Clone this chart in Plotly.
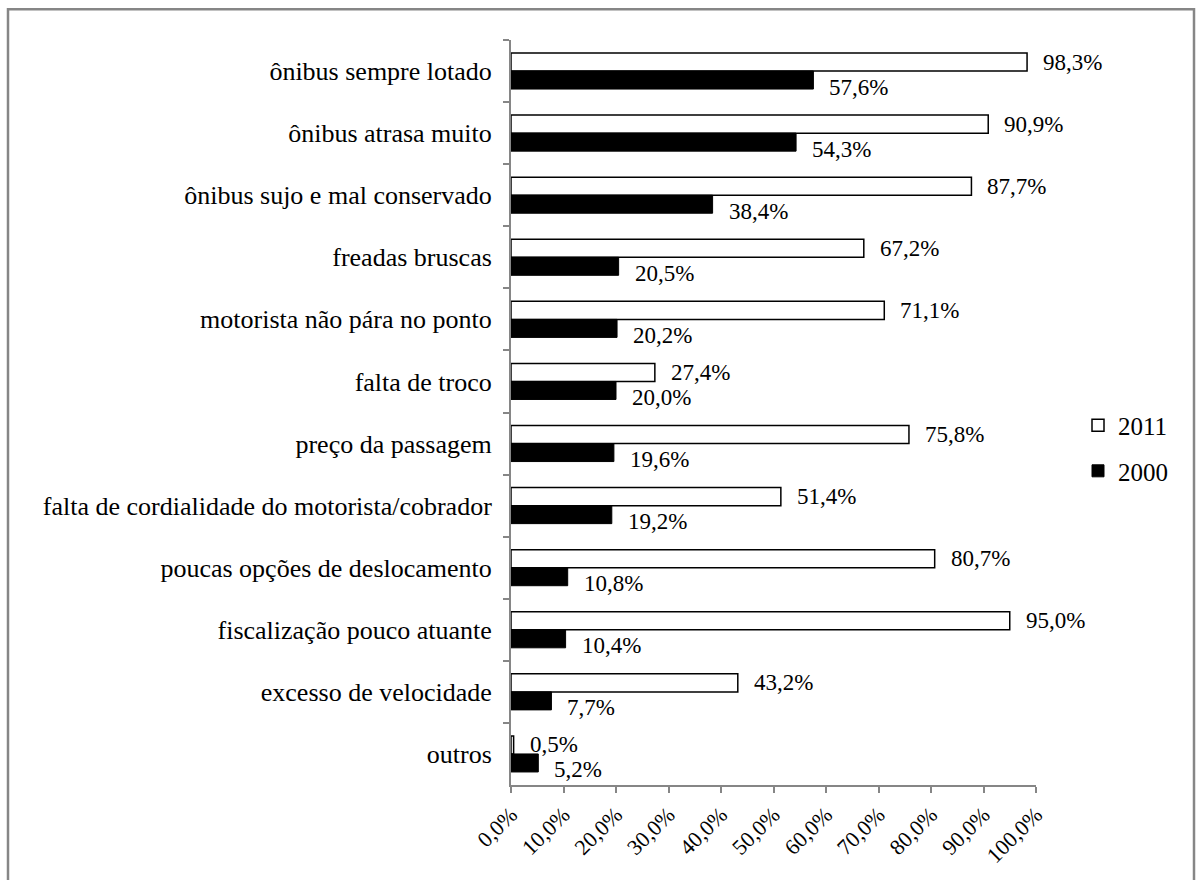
import plotly.graph_objects as go

categories = [
    "ônibus sempre lotado",
    "ônibus atrasa muito",
    "ônibus sujo e mal conservado",
    "freadas bruscas",
    "motorista não pára no ponto",
    "falta de troco",
    "preço da passagem",
    "falta de cordialidade do motorista/cobrador",
    "poucas opções de deslocamento",
    "fiscalização pouco atuante",
    "excesso de velocidade",
    "outros",
]
values_2011 = [98.3, 90.9, 87.7, 67.2, 71.1, 27.4, 75.8, 51.4, 80.7, 95.0, 43.2, 0.5]
values_2000 = [57.6, 54.3, 38.4, 20.5, 20.2, 20.0, 19.6, 19.2, 10.8, 10.4, 7.7, 5.2]
tick_values = [0, 10, 20, 30, 40, 50, 60, 70, 80, 90, 100]
tick_labels = ["0,0%", "10,0%", "20,0%", "30,0%", "40,0%", "50,0%",
               "60,0%", "70,0%", "80,0%", "90,0%", "100,0%"]


def fmt(v):
    return f"{v:.1f}%".replace(".", ",")


FONT = "Liberation Serif, DejaVu Serif, serif"
L, R, T, B = 511, 160, 40, 90
W, H = 1196, 880
pw = W - L - R
ph = H - T - B

fig = go.Figure()
fig.add_trace(go.Bar(
    name="2011", y=categories, x=values_2011, orientation="h",
    marker=dict(color="white", line=dict(color="black", width=1.5)),
    legendgroup="a",
))
fig.add_trace(go.Bar(
    name="2000", y=categories, x=values_2000, orientation="h",
    marker=dict(color="black", line=dict(color="black", width=1)),
    legendgroup="b",
))

bargap = 0.42
half = (1 - bargap) / 4
annotations = []
for i, (a, b) in enumerate(zip(values_2011, values_2000)):
    annotations.append(dict(x=a, y=i - half, xref="x", yref="y", text=fmt(a),
                            showarrow=False, xanchor="left", xshift=14,
                            font=dict(family=FONT, size=23, color="black")))
    annotations.append(dict(x=b, y=i + half, xref="x", yref="y", text=fmt(b),
                            showarrow=False, xanchor="left", xshift=14, yshift=-7,
                            font=dict(family=FONT, size=23, color="black")))

fig.update_layout(
    width=W, height=H,
    margin=dict(l=L, r=R, t=T, b=B),
    paper_bgcolor="white", plot_bgcolor="white",
    barmode="group", bargap=bargap, bargroupgap=0,
    font=dict(family=FONT, size=23, color="black"),
    showlegend=True,
    legend=dict(x=(1078 - L) / pw, y=(790 - 405) / ph, xanchor="left", yanchor="top",
                font=dict(family=FONT, size=25, color="black"),
                tracegroupgap=10, itemwidth=30, bgcolor="rgba(0,0,0,0)"),
    annotations=annotations,
    shapes=[dict(type="rect", xref="paper", yref="paper",
                 x0=(8 - L) / pw, x1=(1194 - L) / pw,
                 y0=(790 - 895) / ph, y1=(790 - 9) / ph,
                 line=dict(color="#868686", width=2.5), layer="below")],
)
fig.update_xaxes(
    range=[0, 100], tickvals=tick_values, ticktext=tick_labels, tickangle=-45,
    showgrid=False, zeroline=False, showline=True, linecolor="#868686", linewidth=2,
    ticks="outside", ticklen=6, tickcolor="#868686", tickwidth=1.5,
    tickfont=dict(family=FONT, size=22, color="black"),
)
fig.update_yaxes(
    autorange="reversed", type="category", showgrid=False, zeroline=False,
    showline=True, linecolor="#868686", linewidth=2,
    ticks="outside", ticklen=6, tickcolor="#868686", tickwidth=1.5,
    tickson="boundaries", ticklabelstandoff=12,
    tickfont=dict(family=FONT, size=26, color="black"),
)
fig.write_html("out.html", config={"displayModeBar": False},
               post_script="document.body.style.margin='0';document.body.style.padding='0';")
